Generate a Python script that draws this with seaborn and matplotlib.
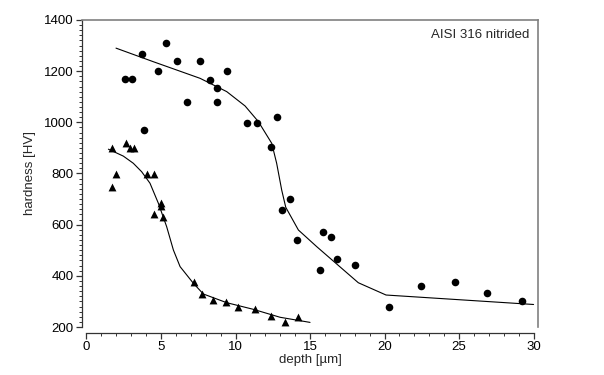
import numpy as np
import pandas as pd
import matplotlib
matplotlib.use("Agg")
import matplotlib.pyplot as plt
from matplotlib.ticker import MultipleLocator
import seaborn as sns

# Datos
circ_depth = [3.75, 5.36, 2.58, 3.07, 4.78, 6.07, 7.62, 6.77, 8.27, 8.76, 8.74, 9.41,
              3.86, 10.77, 11.44, 12.79, 12.36, 13.66, 13.12, 14.13, 15.89, 16.41,
              15.65, 16.84, 18.02, 20.28, 22.45, 24.73, 26.9, 29.23]
circ_hv = [1268, 1310, 1170, 1170, 1200, 1238, 1238, 1078, 1164, 1136, 1078, 1200,
           970, 996, 996, 1020, 902, 700, 657, 540, 571, 551,
           422, 467, 444, 279, 360, 377, 334, 303]

tri_depth = [1.73, 2.0, 1.73, 2.67, 2.9, 3.19, 4.06, 4.55, 4.51, 4.98, 5.0, 5.13,
             7.19, 7.75, 8.49, 9.34, 10.17, 11.33, 12.38, 13.34, 14.2]
tri_hv = [899, 798, 746, 920, 901, 901, 798, 798, 643, 685, 673, 629,
          375, 328, 304, 299, 279, 270, 244, 221, 239]

circ_fit_depth = [1.98, 4.48, 7.62, 9.41, 10.64, 11.53, 12.43, 12.76, 13.1, 13.37,
                  14.22, 15.45, 16.34, 18.24, 20.1, 30.0]
circ_fit_hv = [1290, 1237, 1172, 1120, 1064, 1003, 918, 840, 735, 668,
               579, 514, 469, 373, 325, 288]

tri_fit_depth = [1.47, 2.47, 3.14, 3.7, 4.26, 4.82, 5.38, 5.83, 6.28, 7.17, 7.84,
                 9.41, 11.2, 12.99, 15.0]
tri_fit_hv = [895, 868, 840, 807, 762, 684, 592, 501, 436, 371, 329,
              295, 269, 238, 218]

sns.set_theme(style="ticks")
plt.rcParams['font.family'] = ['Liberation Sans', 'DejaVu Sans']

fig = plt.figure(figsize=(6.04, 3.75), dpi=100)
ax = fig.add_axes([0.1358, 0.128, 0.755, 0.8187])

df_c = pd.DataFrame({'depth': circ_depth, 'hv': circ_hv})
df_t = pd.DataFrame({'depth': tri_depth, 'hv': tri_hv})
df_cf = pd.DataFrame({'depth': circ_fit_depth, 'hv': circ_fit_hv})
df_tf = pd.DataFrame({'depth': tri_fit_depth, 'hv': tri_fit_hv})

sns.lineplot(data=df_cf, x='depth', y='hv', sort=False, color='black', lw=0.8, ax=ax)
sns.lineplot(data=df_tf, x='depth', y='hv', sort=False, color='black', lw=0.8, ax=ax)
sns.scatterplot(data=df_c, x='depth', y='hv', marker='o', s=30, color='black',
                edgecolor='black', linewidth=0, ax=ax)
sns.scatterplot(data=df_t, x='depth', y='hv', marker='^', s=32, color='black',
                edgecolor='black', linewidth=0, ax=ax)

ax.set_xlim(-0.3, 30.3)
ax.set_ylim(200, 1400)
ax.set_xticks([0, 5, 10, 15, 20, 25, 30])
ax.set_yticks([200, 400, 600, 800, 1000, 1200, 1400])
ax.xaxis.set_minor_locator(MultipleLocator(1))
ax.yaxis.set_minor_locator(MultipleLocator(20))

ax.spines['bottom'].set_position(('outward', 4))
ax.spines['bottom'].set_bounds(0, 30)
for s in ['top', 'right']:
    ax.spines[s].set_color('#808080')
    ax.spines[s].set_linewidth(1.2)
for s in ['left', 'bottom']:
    ax.spines[s].set_color('#333333')
    ax.spines[s].set_linewidth(0.9)

ax.tick_params(axis='both', which='major', length=4, width=0.9, color='#333333',
               labelsize=9.5, pad=2, labelcolor='black')
ax.tick_params(axis='both', which='minor', length=2, width=0.7, color='#333333')

ax.set_xlabel('depth [µm]', fontsize=9.5, labelpad=1)
ax.set_ylabel('hardness [HV]', fontsize=9.5, labelpad=6)

ax.text(0.98, 0.95, 'AISI 316 nitrided', transform=ax.transAxes, ha='right',
        va='center', fontsize=9.5)

fig.savefig('out.png', dpi=100)
